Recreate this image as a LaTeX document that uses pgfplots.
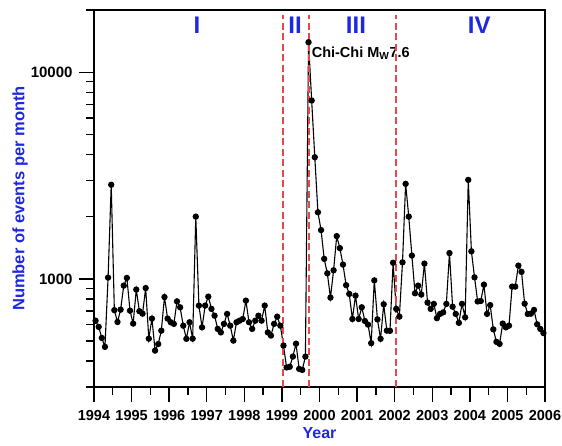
\documentclass[border=0pt]{standalone}
\usepackage{fontspec}
\setmainfont{Liberation Sans}
\usepackage{pgfplots}
\usepackage{pgfplotstable}
\pgfplotsset{compat=1.18}

\definecolor{labelblue}{RGB}{30,40,225}
\definecolor{phasered}{RGB}{228,72,72}
\tikzset{phase/.style={anchor=base, inner sep=0pt, text=labelblue,
    font=\fontsize{24}{26}\selectfont\bfseries}}

% Monthly event counts, month index m = 0 for January 1994
\pgfplotstableread{
m v
0 628
1 586
2 518
3 469
4 1015
5 2855
6 706
7 619
8 710
9 928
10 1011
11 702
12 608
13 888
14 698
15 679
16 903
17 514
18 643
19 450
20 484
21 562
22 817
23 643
24 617
25 606
26 779
27 729
28 594
29 513
30 617
31 514
32 2002
33 743
34 583
35 743
36 821
37 716
38 664
39 573
40 551
41 606
42 677
43 594
44 503
45 617
46 628
47 640
48 785
49 617
50 573
51 628
52 664
53 628
54 743
55 551
56 532
57 606
58 657
59 594
60 476
61 373
62 376
63 421
64 486
65 367
66 363
67 421
68 13970
69 7295
70 3879
71 2101
72 1723
73 1250
74 1064
75 812
76 1101
77 1611
78 1409
79 1173
80 933
81 846
82 640
83 830
84 640
85 729
86 626
87 601
88 489
89 984
90 637
91 513
92 754
93 562
94 561
95 1197
96 716
97 657
98 1203
99 2883
100 2002
101 1297
102 852
103 928
104 840
105 1186
106 768
107 716
108 757
109 646
110 677
111 689
112 757
113 1333
114 734
115 677
116 613
117 757
118 652
119 3014
120 1360
121 1018
122 778
123 782
124 938
125 677
126 747
127 570
128 496
129 485
130 608
131 583
132 594
133 918
134 918
135 1160
136 1082
137 759
138 677
139 679
140 708
141 603
142 573
143 547
}\events

\begin{document}
\begin{tikzpicture}[x=1pt,y=1pt]
\useasboundingbox (0,0) rectangle (562,445);
\begin{axis}[
  at={(94pt,58pt)}, anchor=south west,
  width=451pt, height=377pt, scale only axis,
  xmin=1994, xmax=2006,
  ymode=log, ymin=300, ymax=20000,
  xtick={1994,1995,...,2006},
  minor xtick={1994.5,1995.5,...,2005.5},
  ytick={1000,10000},
  yticklabels={1000,10000},
  minor ytick={300,400,500,600,700,800,900,2000,3000,4000,5000,6000,7000,8000,9000,20000},
  tick pos=left,
  tick align=outside,
  major tick length=15pt,
  minor tick length=8pt,
  every tick/.style={black, line width=1.4pt},
  axis line style={black, line width=1.8pt},
  /pgf/number format/1000 sep={},
  /pgf/number format/assume math mode=true,
  xticklabel style={font=\fontsize{14.5}{16}\selectfont\bfseries, yshift=-5pt},
  yticklabel style={font=\fontsize{15}{17}\selectfont\bfseries, xshift=-3pt},
  xlabel={Year},
  ylabel={Number of events per month},
  xlabel style={font=\fontsize{16}{18}\selectfont\bfseries, text=labelblue,
    at={(axis description cs:0.5,0)}, anchor=north, inner sep=0pt, yshift=-40pt},
  ylabel style={font=\fontsize{16.5}{18}\selectfont\bfseries, text=labelblue,
    at={(axis description cs:-0.164,0.5)}, anchor=center, inner sep=0pt},
  clip=false,
]
% event label for the main shock
\node[anchor=base west, inner sep=0pt, font=\fontsize{14.5}{16}\selectfont\bfseries]
  at (axis cs:1999.79,11800) {Chi-Chi M\textsubscript{W}7.6};

% monthly counts
\addplot[black, line width=1.1pt, mark=*, mark size=2.6pt,
  mark options={fill=black, draw=black}]
  table[x expr=1994+(\thisrow{m}+0.5)/12, y=v] {\events};

% phase boundaries
\addplot[phasered, line width=2pt, dash pattern=on 7pt off 3.5pt, forget plot]
  coordinates {(1999.03,300) (1999.03,19000)};
\addplot[phasered, line width=2pt, dash pattern=on 7pt off 3.5pt, forget plot]
  coordinates {(1999.73,300) (1999.73,19000)};
\addplot[phasered, line width=2pt, dash pattern=on 7pt off 3.5pt, forget plot]
  coordinates {(2002.04,300) (2002.04,19000)};

% phase names
\node[phase] at (axis cs:1996.74,15390) {I};
\node[phase] at (axis cs:1999.35,15390) {II};
\node[phase] at (axis cs:2000.97,15390) {III};
\node[phase] at (axis cs:2004.25,15390) {IV};
\end{axis}
\end{tikzpicture}
\end{document}
